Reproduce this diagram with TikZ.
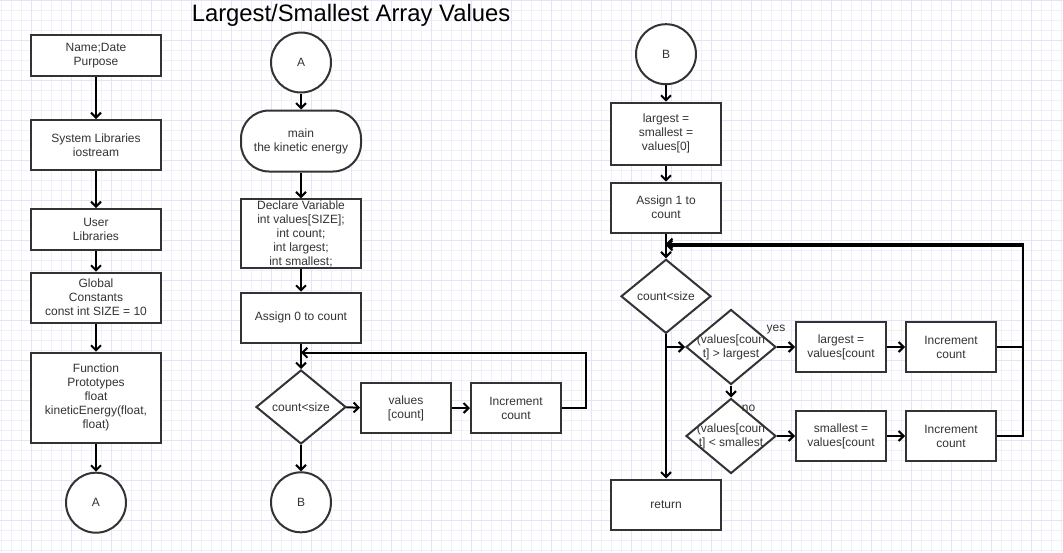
\documentclass[tikz,border=0pt]{standalone}
\usepackage{fontspec}
\setmainfont{Liberation Sans}
\usepackage{xcolor}
\usepackage{tikz}
\usetikzlibrary{shapes.geometric,arrows.meta}

\definecolor{gridlight}{RGB}{240,240,252}
\definecolor{griddark}{RGB}{228,228,248}
\definecolor{shapeline}{RGB}{51,51,51}

% zero width line so text may run over the diamond
\newcommand{\dline}[1]{\makebox[0pt][c]{#1}}

\begin{document}
\begin{tikzpicture}[x=1pt,y=-1pt,
    font=\fontsize{12}{14}\selectfont,
    every node/.style={text=shapeline},
    box/.style={draw=shapeline, line width=2pt, fill=white, align=center, inner sep=0pt},
    term/.style={box, rounded corners=28pt},
    conn/.style={box, circle, minimum size=60pt},
    decision/.style={box, diamond, minimum width=90pt, minimum height=74pt},
    flow/.style={line width=2pt, -{Straight Barb[length=5pt,width=10pt]}}]

    % Draw the grid paper
    \useasboundingbox (0,0) rectangle (1063,552);
    \fill[white] (0,0) rectangle (1063,552);
    \foreach \gx in {1.7,11.7,...,1062} \draw[gridlight, line width=1pt] (\gx,0) -- (\gx,552);
    \foreach \gy in {0.7,10.7,...,552} \draw[gridlight, line width=1pt] (0,\gy) -- (1063,\gy);
    \foreach \gx in {31.7,71.7,...,1062} \draw[griddark, line width=1pt] (\gx,0) -- (\gx,552);
    \foreach \gy in {0.7,40.7,...,552} \draw[griddark, line width=1pt] (0,\gy) -- (1063,\gy);

    % Add the title
    \node[anchor=base, text=black, font=\fontsize{23.8}{28}\selectfont] (title) at (351,21.7) {Largest/Smallest Array Values};

    % Left column
    \node[box, minimum width=130pt, minimum height=41pt] (head) at (96,55.5) {Name;Date\\Purpose};
    \node[box, minimum width=130pt, minimum height=50pt] (syslib) at (96,145) {System Libraries\\iostream};
    \node[box, minimum width=130pt, minimum height=41pt] (userlib) at (96,229.5) {User\\Libraries};
    \node[box, minimum width=130pt, minimum height=50pt] (globals) at (96,297.7) {Global\\Constants\\const int SIZE = 10};
    \node[box, minimum width=130pt, minimum height=90pt] (protos) at (96,397.7) {Function\\Prototypes\\float\\kineticEnergy(float,\\float)};
    \node[conn] (connA) at (96,502.7) {A};

    \draw[flow] (head) -- (syslib);
    \draw[flow] (syslib) -- (userlib);
    \draw[flow] (userlib) -- (globals);
    \draw[flow] (globals) -- (protos);
    \draw[flow] (protos) -- (connA);

    % Middle column
    \node[conn] (connA2) at (301,62.5) {A};
    \node[term, minimum width=120pt, minimum height=61pt] (mainfn) at (301,141) {main\\the kinetic energy};
    \node[box, minimum width=120pt, minimum height=69pt] (declare) at (301,233.8) {Declare Variable\\int values[SIZE];\\int count;\\int largest;\\int smallest;};
    \node[box, minimum width=120pt, minimum height=50pt] (assign0) at (301,317.7) {Assign 0 to count};
    \node[decision] (check1) at (301,407) {\dline{count<size}};
    \node[box, minimum width=90pt, minimum height=50pt] (fill) at (406,408) {values\\{[count]}};
    \node[box, minimum width=90pt, minimum height=50pt] (inc1) at (516,408) {Increment\\count};
    \node[conn] (connB) at (301,502.3) {B};
    \coordinate (back1) at (301,352.7);

    \draw[flow] (connA2) -- (mainfn);
    \draw[flow] (mainfn) -- (declare);
    \draw[flow] (declare) -- (assign0);
    \draw[flow] (assign0) -- (check1);
    \draw[flow] (check1) -- (fill);
    \draw[flow] (fill) -- (inc1);
    \draw[flow] (check1) -- (connB);
    \draw[flow] (inc1.east) -- ++(24.3,0) |- (back1);

    % Right column
    \node[conn] (connB2) at (666,54.2) {B};
    \node[box, minimum width=110pt, minimum height=62pt] (init) at (666,133.7) {largest =\\smallest =\\values[0]};
    \node[box, minimum width=110pt, minimum height=50pt] (assign1) at (666,207.7) {Assign 1 to\\count};
    \node[decision] (check2) at (666,296.3) {\dline{count<size}};
    \node[box, minimum width=110pt, minimum height=50pt] (done) at (666,504.5) {return};
    \node[decision, minimum height=75pt] (cmpL) at (731,347) {\dline{(values[coun}\\\dline{t] > largest}};
    \node[box, minimum width=90pt, minimum height=50pt] (setL) at (841,347) {largest =\\values[count};
    \node[box, minimum width=90pt, minimum height=50pt] (incL) at (951,347) {Increment\\count};
    \node[decision, minimum height=75pt] (cmpS) at (731,436) {\dline{(values[coun}\\\dline{t] < smallest}};
    \node[box, minimum width=90pt, minimum height=50pt] (setS) at (841,436) {smallest =\\values[count};
    \node[box, minimum width=90pt, minimum height=50pt] (incS) at (951,436) {Increment\\count};
    \node (yeslbl) at (776,330) {yes};
    \node (nolbl) at (748.5,408) {no};
    \coordinate (back2) at (666,245.5);
    \coordinate (split) at (666,347);
    \coordinate (corner) at (1022.7,245.5);

    \draw[flow] (connB2) -- (init);
    \draw[flow] (init) -- (assign1);
    \draw[flow] (assign1) -- (check2);
    \draw[flow] (check2) -- (done);
    \draw[flow] (split) -- (cmpL);
    \draw[flow] (cmpL) -- (setL);
    \draw[flow] (setL) -- (incL);
    \draw[flow] (cmpL) -- (cmpS);
    \draw[flow] (cmpS) -- (setS);
    \draw[flow] (setS) -- (incS);
    \draw[flow] (incS.east) -| (corner) -- (back2);
    \draw[flow] (incL.east) -| ([yshift=2pt]corner) -- ([yshift=2pt]back2);
\end{tikzpicture}
\end{document}
